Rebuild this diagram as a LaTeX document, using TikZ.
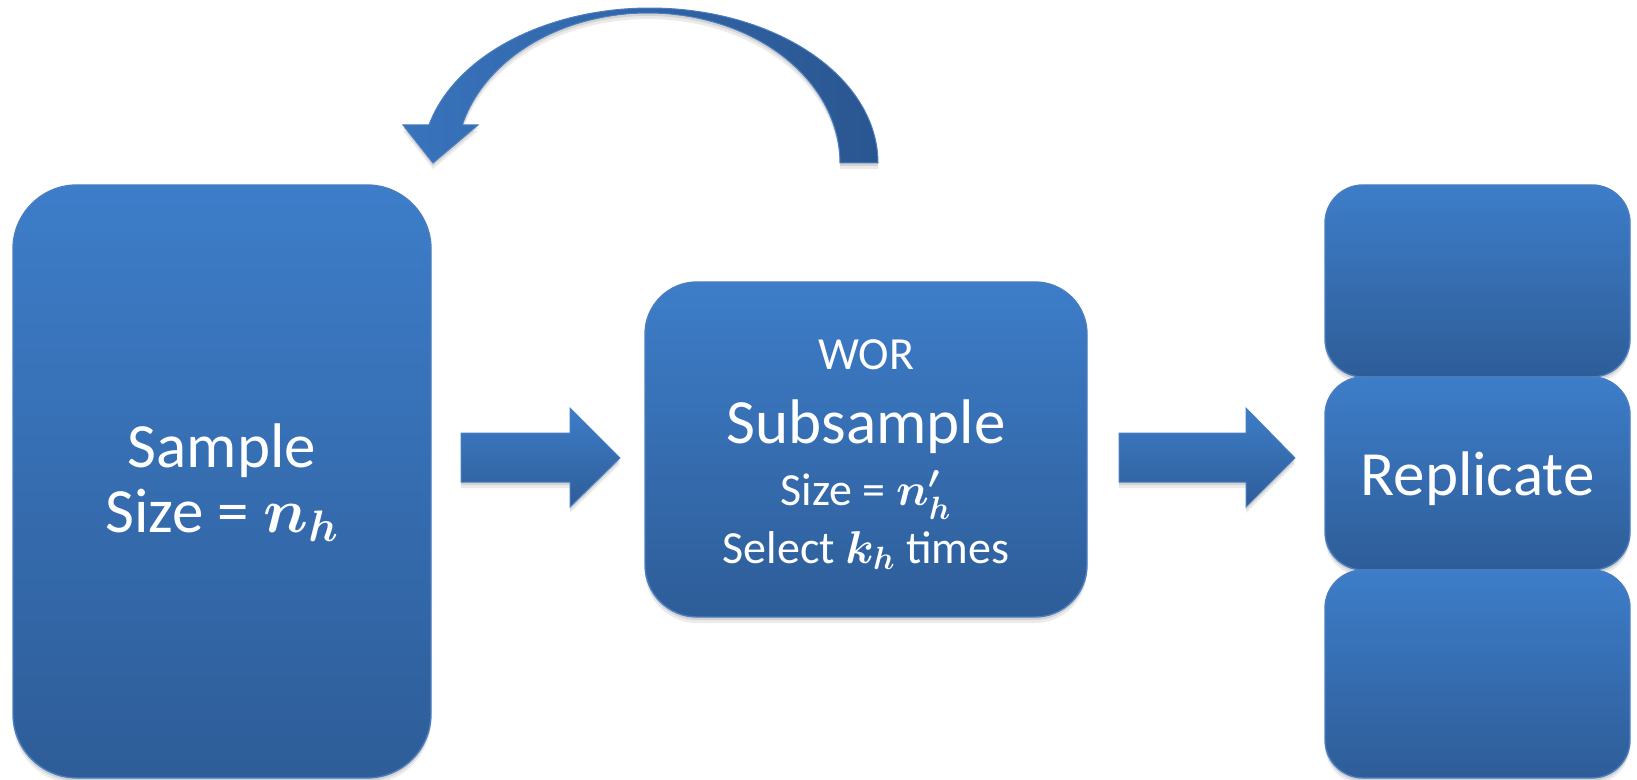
\RequirePackage{fix-cm}
\documentclass[tikz,border=0pt]{standalone}
\usepackage{fontspec}
\setmainfont{Carlito}
\usetikzlibrary{shadows}

\definecolor{boxtop}{HTML}{3D7DC9}
\definecolor{boxbot}{HTML}{2E5D98}
\definecolor{boxedge}{HTML}{4A7EBF}
\definecolor{arrlight}{HTML}{3873BC}
\definecolor{arrdark}{HTML}{2A5690}

% math variables set a little heavier so they sit well next to the sans text
\newcommand{\mvar}[1]{{\boldmath$#1$}}

\tikzset{
  softshadow/.style={
    drop shadow={shadow xshift=0pt, shadow yshift=-1.5pt, opacity=.10, fill=black},
    drop shadow={shadow xshift=0pt, shadow yshift=-3pt, opacity=.08, fill=black}},
  bluebox/.style={rectangle, draw=boxedge, line width=0.7pt,
    top color=boxtop, bottom color=boxbot, inner sep=0pt, softshadow},
  blockarrow/.style={draw=boxedge, line width=0.5pt,
    top color=boxtop, bottom color=boxbot, softshadow},
  bigtxt/.style={text=white, anchor=base, inner sep=0pt,
    font=\fontsize{31.5}{38}\selectfont},
  smalltxt/.style={text=white, anchor=base, inner sep=0pt,
    font=\fontsize{23}{28}\selectfont},
}

\begin{document}
\begin{tikzpicture}[x=0.5pt, y=-0.5pt]
\useasboundingbox (0,0) rectangle (1637,780);

% sample box
\node[bluebox, minimum width=209pt, minimum height=296.5pt,
      rounded corners=32pt] (sample) at (222,481.5) {};
\node[bigtxt] (sampleA) at (222,467) {Sample};
\node[bigtxt] (sampleB) at (222,532) {Size = \mvar{n_h}};

% subsample box
\node[bluebox, minimum width=221pt, minimum height=167.5pt,
      rounded corners=26pt] (sub) at (866,449.5) {};
\node[smalltxt] (subA) at (866,370) {WOR};
\node[bigtxt]   (subB) at (866,443) {Subsample};
\node[smalltxt] (subC) at (866,505) {Size = \mvar{n'_h}};
\node[smalltxt] (subD) at (866,563) {Select \mvar{k_h} times};

% stacked replicate boxes
\node[bluebox, minimum width=152.5pt, minimum height=96pt,
      rounded corners=19pt] (rep1) at (1477.5,281) {};
\node[bluebox, minimum width=152.5pt, minimum height=96.5pt,
      rounded corners=19pt] (rep2) at (1477.5,473.5) {};
\node[bluebox, minimum width=152.5pt, minimum height=104pt,
      rounded corners=19pt] (rep3) at (1477.5,674) {};
\node[bigtxt] (repT) at (1477.5,495) {Replicate};

% block arrows between the boxes
\path[blockarrow] (461,433) -- (570,433) -- (570,408) -- (620,458)
  -- (570,507) -- (570,482) -- (461,482) -- cycle;
\path[blockarrow] (1119,433) -- (1246,433) -- (1246,408) -- (1295,458)
  -- (1246,507) -- (1246,482) -- (1119,482) -- cycle;

% curved return arrow over the top: outer and inner elliptic edges
\path[draw=boxedge, line width=0.5pt, left color=arrlight, right color=arrdark,
      softshadow]
  plot[domain=0:-165.8, samples=90] ({650+228*cos(\x)}, {163+155*sin(\x)})
  -- (403,125) -- (433,163) -- (478,125)
  -- plot[domain=-165.3:0, samples=90] ({648+192*cos(\x)}, {163+150*sin(\x)})
  -- cycle;
\end{tikzpicture}
\end{document}
